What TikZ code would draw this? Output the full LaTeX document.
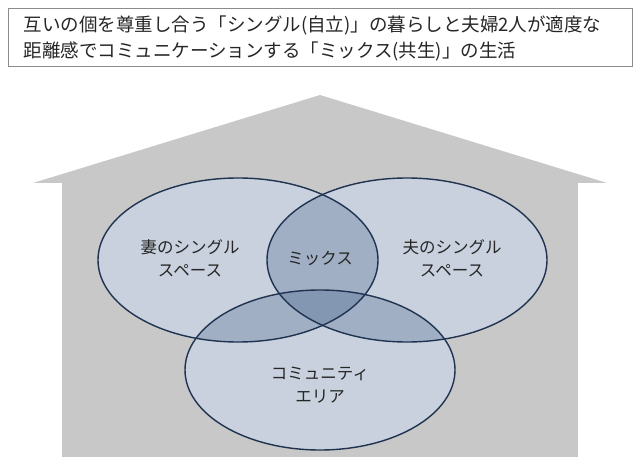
\documentclass[tikz,border=0pt]{standalone}
\usepackage{fontspec}
\setmainfont{Noto Sans CJK JP}
\definecolor{navy}{HTML}{1F3350}
\definecolor{house}{HTML}{C8C8C8}
\definecolor{tint}{HTML}{3A5A85}
\begin{document}
\begin{tikzpicture}[x=1pt,y=-1pt,
    zone/.style={draw=navy, line width=1.4pt},
    label/.style={font=\fontsize{16.5}{23}\selectfont, align=center, text=black!85},
]
\useasboundingbox (0,0) rectangle (640,457);
\fill[white] (0,0) rectangle (640,457);

% caption box
\node[draw=black!45, line width=0.6pt, minimum width=624pt, minimum height=58pt,
      inner sep=0pt] (caption) at (320,37) {};
\node[anchor=west, align=left, font=\fontsize{18.5}{26}\selectfont, text=black!85]
    (captiontext) at (20,38)
    {互いの個を尊重し合う「シングル(自立)」の暮らしと夫婦2人が適度な\\
     距離感でコミュニケーションする「ミックス(共生)」の生活};

% house
\fill[house] (320,95) -- (607,183) -- (33,183) -- cycle;
\fill[house] (62,183) rectangle (578,457);

% zones
\fill[white] (238,260) ellipse (140 and 82);
\fill[white] (407,260) ellipse (140 and 82);
\fill[white] (320,370) ellipse (135 and 80);
\fill[tint, fill opacity=0.28] (238,260) ellipse (140 and 82);
\fill[tint, fill opacity=0.28] (407,260) ellipse (140 and 82);
\fill[tint, fill opacity=0.28] (320,370) ellipse (135 and 80);
\draw[zone] (238,260) ellipse (140 and 82);
\draw[zone] (407,260) ellipse (140 and 82);
\draw[zone] (320,370) ellipse (135 and 80);

\node[label] (wife) at (190,258) {妻のシングル\\スペース};
\node[label] (mix) at (320,258) {ミックス};
\node[label] (husband) at (452,258) {夫のシングル\\スペース};
\node[label] (community) at (320,385) {コミュニティ\\エリア};
\end{tikzpicture}
\end{document}
